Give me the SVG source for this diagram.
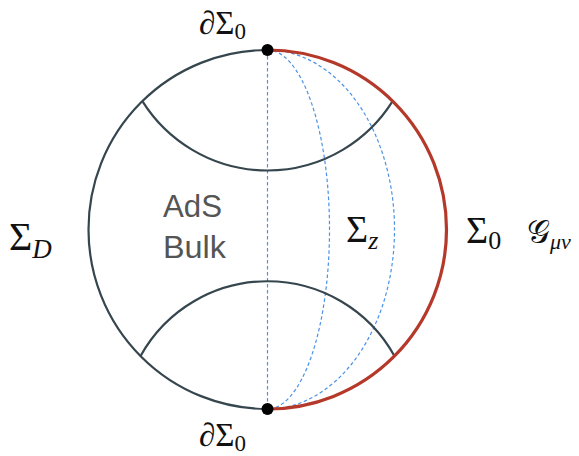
<svg xmlns="http://www.w3.org/2000/svg" width="579" height="456" viewBox="0 0 579 456">
<style>
.dark{fill:none;stroke:#36464e;stroke-width:2.2}
.red{fill:none;stroke:#b5392b;stroke-width:3.2}
.blue{fill:none;stroke:#4b92e6;stroke-width:1.2;stroke-dasharray:3.5 2.5}
.math{font-family:"Liberation Serif","DejaVu Serif",serif;fill:#111}
.it{font-style:italic}
.sans{font-family:"Liberation Sans",Arial,sans-serif;fill:#555;font-size:32px}
</style>
<rect width="579" height="456" fill="#fff"/>
<g id="connectors">
<path class="blue" d="M267.5,50 L267.5,409"/>
<path class="blue" d="M267.5,50 A62,179.5 0 0 1 267.5,409"/>
<path class="blue" d="M267.5,50 A127,179.5 0 0 1 267.5,409"/>
<path class="dark" d="M142.7,101.7 A147.6,147.6 0 0 0 392.3,101.7"/>
<path class="dark" d="M140.7,355.7 A145.2,145.2 0 0 1 394.3,355.7"/>
</g>
<g id="sigmaD-boundary"><path class="dark" d="M267.5,50 A179,179.5 0 0 0 267.5,409"/></g>
<g id="sigma0-boundary"><path class="red" d="M267.5,50 A179,179.5 0 0 1 267.5,409"/></g>
<g id="dot-top"><circle cx="267.5" cy="50" r="6" fill="#000"/></g>
<g id="dot-bottom"><circle cx="267.5" cy="409" r="6" fill="#000"/></g>
<g id="label-top"><text class="math" x="199" y="34" font-size="33"><tspan class="it">∂</tspan>Σ<tspan font-size="23" dy="5">0</tspan></text></g>
<g id="label-bottom"><text class="math" x="199" y="446" font-size="33"><tspan class="it">∂</tspan>Σ<tspan font-size="23" dy="5">0</tspan></text></g>
<g id="label-sigmaD"><text class="math" x="9" y="250" font-size="40">Σ<tspan class="it" font-size="27" dy="8">D</tspan></text></g>
<g id="label-sigmaz"><text class="math" x="346" y="242" font-size="38">Σ<tspan class="it" font-size="26" dy="7">z</tspan></text></g>
<g id="label-sigma0"><text class="math" x="466" y="243" font-size="38">Σ<tspan font-size="26" dy="6">0</tspan></text></g>
<g id="label-G"><text class="math" x="527" y="243" font-size="32">𝒢<tspan class="it" font-size="22" dy="6">μν</tspan></text></g>
<g id="label-bulk"><text class="sans" x="163" y="217" textLength="59" lengthAdjust="spacingAndGlyphs">AdS</text><text class="sans" x="163" y="258" textLength="63" lengthAdjust="spacingAndGlyphs">Bulk</text></g>
</svg>
